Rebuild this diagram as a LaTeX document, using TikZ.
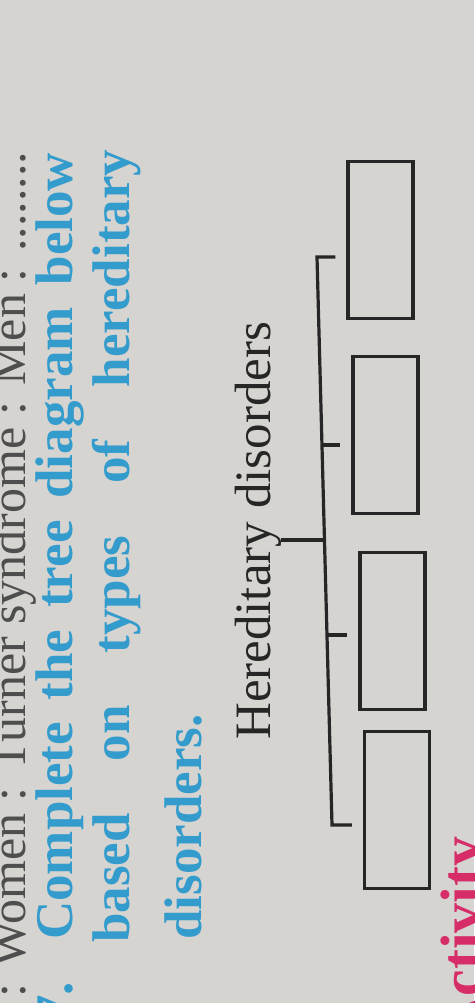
\documentclass[tikz,border=0pt]{standalone}
\usepackage{fontspec}
\setmainfont{Liberation Serif}
\usepackage{xcolor}
\usepackage{tikz}

\definecolor{paper}{RGB}{214,212,209}
\definecolor{qblue}{RGB}{52,156,204}
\definecolor{actpink}{RGB}{214,44,104}
\definecolor{ink}{RGB}{38,38,38}
\definecolor{faded}{RGB}{78,78,78}

\tikzset{
	uptext/.style={rotate=90,anchor=base west,inner sep=0pt},
	blankbox/.style={draw=ink,line width=3.4pt,minimum width=65pt,minimum height=157pt,inner sep=0pt},
	branch/.style={draw=ink,line width=3.2pt}
}

\begin{document}
\begin{tikzpicture}[x=1pt,y=-1pt]
	\useasboundingbox (0,0) rectangle (474,1003);
	\clip (0,0) rectangle (474,1003);
	\fill[paper] (0,0) rectangle (474,1003);

	% end of the previous question, cut at the edge
	\node[uptext,text=faded,font=\fontsize{50}{60}\selectfont] (prev) at (25,998) {\makebox[846pt][s]{: Women : Turner syndrome : Men : ........}};

	% question 7
	\node[uptext,anchor=base east,text=qblue,font=\bfseries\fontsize{53}{60}\selectfont] (qnum) at (72,982) {7.};
	\node[uptext,text=qblue,font=\bfseries\fontsize{53}{60}\selectfont] (qline1) at (72,940) {\makebox[787pt][s]{Complete the tree diagram below}};
	\node[uptext,text=qblue,font=\bfseries\fontsize{53}{60}\selectfont] (qline2) at (129,943) {\makebox[793pt][s]{based on types of hereditary}};
	\node[uptext,text=qblue,font=\bfseries\fontsize{53}{60}\selectfont] (qline3) at (201,940) {disorders.};

	% tree
	\node[uptext,text=ink,font=\fontsize{51}{60}\selectfont] (root) at (270,740) {Hereditary disorders};

	\node[blankbox] (box1) at (380.5,240) {};
	\node[blankbox] (box2) at (385.5,435) {};
	\node[blankbox] (box3) at (392.5,631) {};
	\node[blankbox] (box4) at (397,810) {};

	\coordinate (t1) at (317,257);
	\coordinate (t2) at (322,445);
	\coordinate (fork) at (324.5,540);
	\coordinate (t3) at (327,635);
	\coordinate (t4) at (332,825);

	\draw[branch,shorten <=11pt,shorten >=11pt] (t1 -| box1.west) -- (t1) -- (t4) -- (t4 -| box4.west);
	\draw[branch,shorten >=11pt] (t2) -- (t2 -| box2.west);
	\draw[branch,shorten >=11pt] (t3) -- (t3 -| box3.west);
	\draw[branch] (root.south |- fork) -- (fork);

	% next heading, cut at the edge
	\node[uptext,text=actpink,font=\bfseries\fontsize{60}{70}\selectfont] (act) at (482,1040) {Activity};
\end{tikzpicture}
\end{document}
